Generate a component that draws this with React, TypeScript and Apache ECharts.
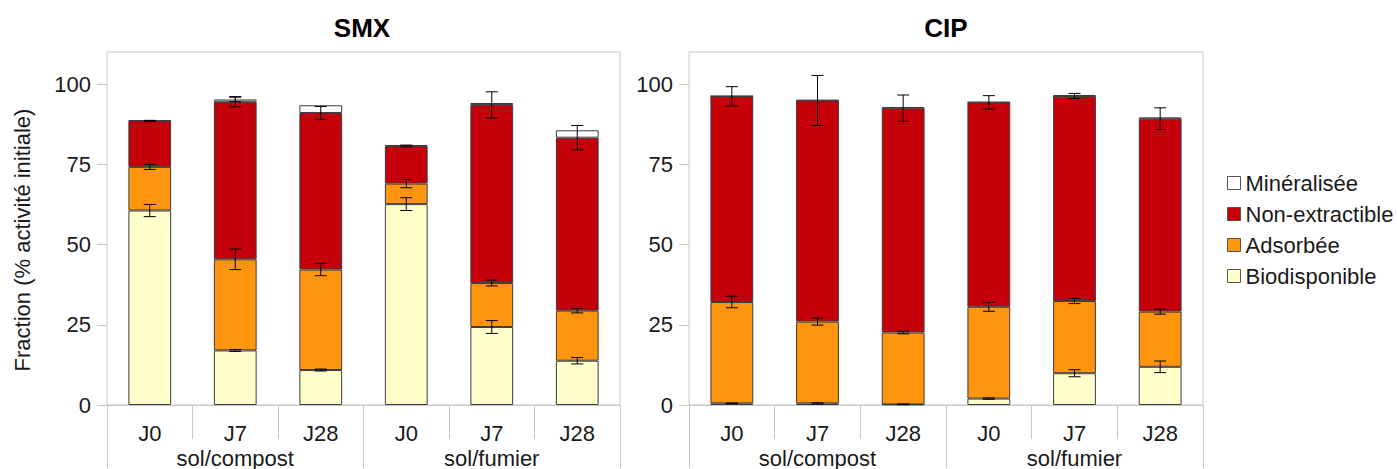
import React, { useEffect, useRef } from "react";
import * as echarts from "echarts";

// ---- data ----
const days = ["J0", "J7", "J28"];
const groups = ["sol/compost", "sol/fumier"];
const fractionNames = ["Biodisponible", "Adsorbée", "Non-extractible", "Minéralisée"];
const legendOrder = ["Minéralisée", "Non-extractible", "Adsorbée", "Biodisponible"];
const yTicks = [0, 25, 50, 75, 100];

// SMX (segment values, % initial activity)
const smxBio = [60.6, 17.0, 10.9, 62.6, 24.3, 13.8];
const smxAds = [13.6, 28.4, 31.3, 6.4, 13.7, 15.6];
const smxNon = [14.3, 49.1, 48.8, 11.7, 55.5, 53.9];
const smxMin = [0.2, 0.7, 2.4, 0.3, 0.6, 2.3];
const smxBioErr = [1.9, 0.3, 0.3, 2.0, 2.0, 1.0];
const smxAdsErr = [0.8, 3.2, 1.9, 1.3, 0.9, 0.7];
const smxNonErr = [0.2, 1.6, 2.0, 0.3, 4.1, 3.8];
const smxMinErr = [0, 0.7, 0, 0, 0, 0];

// CIP
const cipBio = [0.5, 0.5, 0.2, 2.0, 9.9, 11.9];
const cipAds = [31.6, 25.5, 22.4, 28.6, 22.5, 17.2];
const cipNon = [64.1, 68.9, 69.9, 63.7, 63.9, 60.1];
const cipMin = [0.1, 0.1, 0.3, 0.1, 0.3, 0.4];
const cipBioErr = [0.1, 0.2, 0.1, 0.2, 1.1, 1.8];
const cipAdsErr = [1.8, 1.1, 0.4, 1.4, 0.8, 0.8];
const cipNonErr = [3.0, 7.8, 4.1, 2.1, 0.8, 3.4];
const cipMinErr = [0, 0, 0, 0, 0, 0];

const colors: Record<string, string> = {
  "Biodisponible": "#ffffcc",
  "Adsorbée": "#ff950e",
  "Non-extractible": "#c5000b",
  "Minéralisée": "#ffffff",
};

const FONT = "'Liberation Sans', Arial, sans-serif";
const FS = 22;
const TXT = "#1a1a1a";
const categoryKeys = groups.flatMap((g) => days.map((d) => g + "|" + d));

function buildPanel(idx: number, segs: number[][], errs: number[][]) {
  const series: any[] = [];
  fractionNames.forEach((name, k) => {
    series.push({
      type: "bar",
      name,
      xAxisIndex: idx * 2,
      yAxisIndex: idx,
      stack: "s" + idx,
      barWidth: "50%",
      data: segs[k],
      itemStyle: { color: colors[name], borderColor: "#3c3c3c", borderWidth: 1 },
      emphasis: { disabled: true },
    });
  });
  const errData: number[][] = [];
  for (let i = 0; i < categoryKeys.length; i++) {
    let cum = 0;
    for (let k = 0; k < segs.length; k++) {
      cum += segs[k][i];
      const e = errs[k][i];
      if (e > 0) errData.push([i, cum - e, cum + e]);
    }
  }
  series.push({
    type: "custom",
    name: "err" + idx,
    xAxisIndex: idx * 2,
    yAxisIndex: idx,
    z: 10,
    silent: true,
    encode: { x: 0, y: [1, 2] },
    data: errData,
    renderItem: (params: any, api: any) => {
      const i = api.value(0);
      const lo = api.coord([i, api.value(1)]);
      const hi = api.coord([i, api.value(2)]);
      const w = 6;
      const st = { stroke: "#000", lineWidth: 1 };
      return {
        type: "group",
        children: [
          { type: "line", shape: { x1: lo[0], y1: lo[1], x2: hi[0], y2: hi[1] }, style: st },
          { type: "line", shape: { x1: lo[0] - w, y1: lo[1], x2: lo[0] + w, y2: lo[1] }, style: st },
          { type: "line", shape: { x1: hi[0] - w, y1: hi[1], x2: hi[0] + w, y2: hi[1] }, style: st },
        ],
      };
    },
  });
  return series;
}

export default function App() {
  const ref = useRef<HTMLDivElement>(null);
  useEffect(() => {
    if (!ref.current) return;
    const chart = echarts.init(ref.current, undefined, { renderer: "svg" });
    const grids = [
      { left: 107, top: 52, width: 513, height: 354 },
      { left: 689, top: 52, width: 514, height: 354 },
    ];
    const gray = "#c8c8c8";
    const xAxes: any[] = [];
    const yAxes: any[] = [];
    grids.forEach((_, gi) => {
      xAxes.push({
        type: "category",
        gridIndex: gi,
        data: categoryKeys,
        position: "bottom",
        axisLine: { show: true, lineStyle: { color: gray } },
        axisTick: { show: true, length: 34, lineStyle: { color: gray } },
        axisLabel: {
          formatter: (v: string) => v.split("|")[1],
          fontSize: FS,
          color: TXT,
          fontFamily: FONT,
          margin: 17,
          interval: 0,
        },
      });
      xAxes.push({
        type: "category",
        gridIndex: gi,
        data: groups,
        position: "bottom",
        axisLine: { show: false },
        axisTick: { show: true, length: 63, lineStyle: { color: gray } },
        axisLabel: { fontSize: FS, color: TXT, fontFamily: FONT, margin: 42, interval: 0 },
      });
      yAxes.push({
        type: "value",
        gridIndex: gi,
        min: 0,
        max: 110,
        interval: 25,
        axisLine: { show: false },
        splitLine: { show: false },
        axisTick: { show: true, length: 10, lineStyle: { color: gray }, customValues: yTicks },
        axisLabel: {
          fontSize: FS,
          color: TXT,
          fontFamily: FONT,
          margin: 16,
          customValues: yTicks,
        },
      });
    });
    const series = [
      ...buildPanel(0, [smxBio, smxAds, smxNon, smxMin], [smxBioErr, smxAdsErr, smxNonErr, smxMinErr]),
      ...buildPanel(1, [cipBio, cipAds, cipNon, cipMin], [cipBioErr, cipAdsErr, cipNonErr, cipMinErr]),
    ];
    chart.setOption({
      animation: false,
      backgroundColor: "#ffffff",
      grid: grids.map((g) => ({ ...g, show: true, borderColor: gray, borderWidth: 1, backgroundColor: "transparent" })),
      xAxis: xAxes,
      yAxis: yAxes,
      legend: {
        data: legendOrder,
        orient: "vertical",
        left: 1227,
        top: 172,
        padding: 0,
        icon: "rect",
        itemWidth: 13,
        itemHeight: 13,
        itemGap: 9,
        selectedMode: false,
        textStyle: { fontSize: FS, color: TXT, fontFamily: FONT },
        itemStyle: { borderColor: "#555", borderWidth: 1 },
      },
      graphic: [
        {
          type: "text",
          x: 362,
          y: 28,
          style: { text: "SMX", font: "bold 26px " + FONT, fill: "#000", align: "center", verticalAlign: "middle" },
        },
        {
          type: "text",
          x: 946,
          y: 28,
          style: { text: "CIP", font: "bold 26px " + FONT, fill: "#000", align: "center", verticalAlign: "middle" },
        },
        {
          type: "text",
          x: 22,
          y: 240,
          rotation: Math.PI / 2,
          style: {
            text: "Fraction (% activité initiale)",
            font: FS + "px " + FONT,
            fill: TXT,
            align: "center",
            verticalAlign: "middle",
          },
        },
      ],
      series,
    });
    return () => chart.dispose();
  }, []);
  return (
    <div
      ref={ref}
      style={{ position: "absolute", left: 0, top: 0, width: 1397, height: 469, background: "#fff" }}
    />
  );
}
